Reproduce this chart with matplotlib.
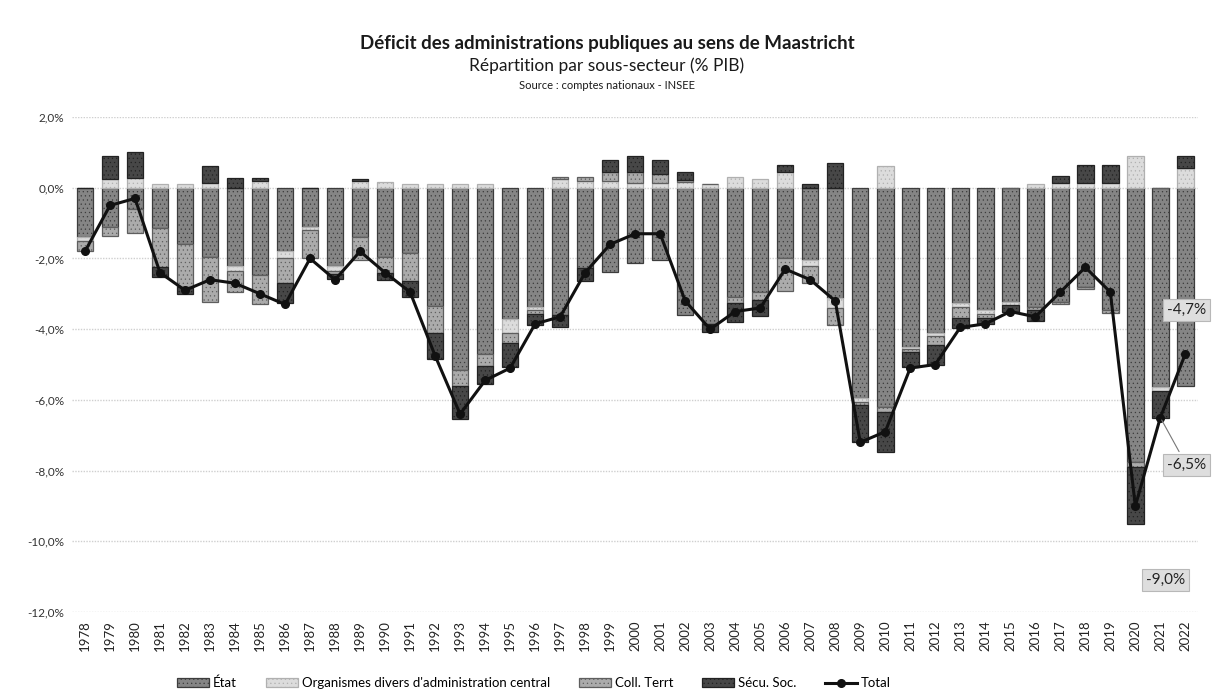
import matplotlib
matplotlib.use("Agg")
import matplotlib.pyplot as plt
import numpy as np

plt.rcParams['font.family'] = ['Lato', 'DejaVu Sans']
plt.rcParams['hatch.linewidth'] = 0.4
plt.rcParams['hatch.color'] = '#3a3a3a'

years = list(range(1978, 2023))
etat = [-1.4, -1.1, -0.6, -1.14, -1.6, -1.95, -2.2, -2.46, -1.8, -1.1,
        -2.2, -1.4, -1.95, -1.85, -3.35, -5.15, -4.7, -3.7, -3.37, -3.6,
        -2.27, -2.37, -2.13, -2.05, -3.6, -3.85, -3.1, -2.95, -2.0, -2.05,
        -3.13, -5.95, -6.2, -4.5, -4.1, -3.27, -3.46, -3.22, -3.36, -3.22,
        -2.8, -3.45, -7.75, -5.63, -5.6]
odac = [-0.1, 0.24, 0.28, 0.1, 0.1, 0.14, -0.15, 0.2, -0.19, -0.1,
        -0.15, 0.2, 0.15, 0.12, 0.1, 0.1, 0.1, -0.4, -0.1, 0.25,
        0.19, 0.2, 0.14, 0.14, 0.16, 0.1, 0.3, 0.25, 0.45, -0.15,
        -0.28, -0.12, 0.62, -0.05, -0.1, -0.1, -0.1, -0.1, 0.1, 0.14,
        0.14, 0.14, 0.9, -0.12, 0.55]
coll = [-0.3, -0.27, -0.68, -1.09, -1.2, -1.27, -0.6, -0.83, -0.71, -0.8,
        -0.1, -0.65, -0.45, -0.8, -0.75, -0.45, -0.35, -0.3, -0.1, 0.05,
        0.11, 0.25, 0.3, 0.25, 0.05, 0.0, -0.15, -0.22, -0.93, -0.5,
        -0.47, -0.08, -0.14, -0.1, -0.25, -0.3, -0.12, 0.0, -0.1, -0.06,
        -0.05, -0.1, -0.15, 0.0, 0.0]
secu = [0.0, 0.66, 0.72, -0.28, -0.2, 0.48, 0.28, 0.08, -0.57, 0.0,
        -0.12, 0.05, -0.2, -0.43, -0.75, -0.95, -0.5, -0.68, -0.3, -0.35,
        -0.38, 0.35, 0.45, 0.4, 0.25, -0.23, -0.55, -0.45, 0.2, 0.1,
        0.71, -1.05, -1.14, -0.42, -0.57, -0.3, -0.17, -0.2, -0.3, 0.19,
        0.5, 0.5, -1.6, -0.75, 0.35]
total = [-1.8, -0.5, -0.3, -2.4, -2.9, -2.6, -2.7, -3.0, -3.3, -2.0,
         -2.6, -1.8, -2.4, -2.95, -4.75, -6.4, -5.45, -5.1, -3.85, -3.65,
         -2.4, -1.6, -1.3, -1.3, -3.2, -4.0, -3.5, -3.4, -2.3, -2.6,
         -3.2, -7.2, -6.9, -5.1, -5.0, -3.95, -3.85, -3.5, -3.65, -2.95,
         -2.25, -2.95, -9.0, -6.5, -4.7]

series_names = ["État", "Organismes divers d'administration central",
                "Coll. Terrt", "Sécu. Soc."]
series_vals = [etat, odac, coll, secu]
colors = ["#858585", "#dcdcdc", "#ababab", "#474747"]
edges = ["#3c3c3c", "#b0b0b0", "#5e5e5e", "#222222"]

fig = plt.figure(figsize=(12.14, 6.97), dpi=100)
ax = fig.add_axes([0.0597, 0.122, 0.927, 0.710])

x = np.arange(len(years))
pos_base = np.zeros(len(years))
neg_base = np.zeros(len(years))
handles = []
for name, vals, c, ec in zip(series_names, series_vals, colors, edges):
    v = np.array(vals, dtype=float)
    bottoms = np.where(v >= 0, pos_base, neg_base)
    b = ax.bar(x, v, 0.66, bottom=bottoms, color=c, edgecolor=ec,
               linewidth=0.9, hatch="....", label=name, zorder=2)
    handles.append(b)
    pos_base = pos_base + np.where(v >= 0, v, 0)
    neg_base = neg_base + np.where(v < 0, v, 0)

line, = ax.plot(x, total, color="#111111", lw=2.2, marker="o", ms=5.5,
                zorder=4, label="Total")
handles.append(line)

ax.set_xlim(-0.5, len(years) - 0.5)
ax.set_ylim(-12, 2)
yt = np.arange(-12, 3, 2)
ax.set_yticks(yt)
ax.set_yticklabels([("%.1f%%" % v).replace(".", ",") for v in yt],
                   fontsize=8.5, color="#333333")
ax.set_xticks(x)
ax.set_xticklabels([str(y) for y in years], rotation=90, fontsize=9.5,
                   color="#222222")
ax.tick_params(length=0, pad=6)
ax.yaxis.grid(True, color="#cfcfcf", lw=1.0, ls=(0, (1, 1)), zorder=0)
for s in ax.spines.values():
    s.set_visible(False)

# data labels
lab_style = dict(fontsize=11, color="#222222", ha="center", va="center",
                 bbox=dict(boxstyle="square,pad=0.25", fc="#dedede",
                           ec="#b8b8b8", lw=0.8), zorder=6)
ax.annotate("-4,7%", xy=(44, total[44]), xytext=(44.05, -3.45), **lab_style)
ax.annotate("-6,5%", xy=(43, total[43]), xytext=(44.05, -7.85),
            arrowprops=dict(arrowstyle="-", color="#777777", lw=0.8),
            **lab_style)
ax.annotate("-9,0%", xy=(42, total[42]), xytext=(43.2, -11.1), **lab_style)

fig.text(0.5, 0.937, "Déficit des administrations publiques au sens de Maastricht",
         ha="center", va="center", fontsize=13.5, fontweight="bold",
         color="#1a1a1a")
fig.text(0.5, 0.905, "Répartition par sous-secteur (% PIB)", ha="center",
         va="center", fontsize=12.5, color="#1a1a1a")
fig.text(0.5, 0.877, "Source : comptes nationaux - INSEE", ha="center",
         va="center", fontsize=8, color="#1a1a1a")

fig.legend(handles=handles, labels=[h.get_label() for h in handles],
           loc="center", bbox_to_anchor=(0.44, 0.02), ncol=5, frameon=False,
           fontsize=9.5, handlelength=2.4, handletextpad=0.3,
           columnspacing=2.2)

fig.savefig("out.png", dpi=100)
